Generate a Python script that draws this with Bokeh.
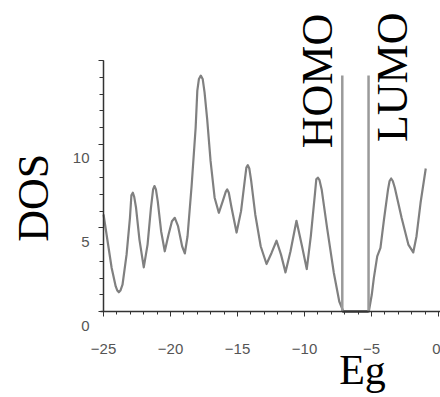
import math
from bokeh.plotting import figure
from bokeh.models import Range1d, SingleIntervalTicker, Label, LinearAxis
from bokeh.embed import file_html
from bokeh.resources import INLINE

# Density of states curve (energy Eg, DOS)
eg = [-25.0, -24.697, -24.393, -24.09, -23.97, -23.857, -23.74, -23.584, -23.281, -23.028,
      -22.92, -22.816, -22.71, -22.573, -22.32, -21.997, -21.714, -21.461, -21.3, -21.198,
      -21.09, -20.955, -20.702, -20.43, -20.146, -19.893, -19.681, -19.438, -19.135, -18.933,
      -18.73, -18.427, -18.124, -18.0, -17.88, -17.74, -17.6, -17.46, -17.265, -17.012,
      -16.708, -16.395, -16.101, -15.88, -15.768, -15.65, -15.444, -15.07, -14.736, -14.433,
      -14.34, -14.23, -14.12, -13.978, -13.675, -13.27, -12.835, -12.461, -12.087, -11.753,
      -11.419, -11.045, -10.6, -10.185, -9.832, -9.529, -9.225, -9.12, -9.003, -8.88,
      -8.72, -8.315, -7.81, -7.405, -7.1, -5.2, -4.98, -4.826, -4.574, -4.331,
      -4.068, -3.765, -3.65, -3.533, -3.41, -3.26, -2.754, -2.248, -1.884, -1.641,
      -1.338, -0.95]
dos = [5.8, 4.2, 2.6, 1.5, 1.25, 1.15, 1.25, 1.6, 3.4, 5.6,
       6.95, 7.1, 6.85, 6.2, 4.3, 2.64, 4.0, 6.2, 7.3, 7.5,
       7.3, 6.6, 4.8, 3.6, 4.6, 5.4, 5.6, 5.1, 3.9, 3.47,
       4.5, 7.5, 11.0, 13.2, 13.9, 14.1, 13.9, 13.1, 11.5, 9.0,
       6.8, 5.9, 6.6, 7.15, 7.3, 7.1, 6.2, 4.72, 6.0, 8.0,
       8.6, 8.75, 8.55, 7.8, 5.8, 3.9, 2.84, 3.5, 4.23, 3.4,
       2.34, 3.6, 5.42, 3.9, 2.54, 4.5, 7.0, 7.9, 8.0, 7.85,
       7.3, 5.0, 2.3, 0.6, 0.0, 0.0, 1.0, 2.0, 3.3, 3.8,
       5.5, 7.3, 7.8, 7.95, 7.8, 7.4, 5.6, 4.0, 3.53, 4.5,
       6.5, 8.55]

homo_x = [-7.18]
lumo_x = [-5.22]
level_top = [14.1]
level_bottom = [0.0]

y_tick_values = [0, 5, 10]
y_tick_labels = ["0", "5", "10"]

p = figure(width=440, height=397, output_backend="svg", toolbar_location=None,
           x_range=Range1d(-32.69, 0.15), y_range=Range1d(-5.14, 18.59),
           min_border_left=0, min_border_right=0, min_border_top=0,
           min_border_bottom=0, x_axis_type=None, y_axis_type=None)
p.outline_line_color = None
p.background_fill_color = "white"
p.border_fill_color = "white"

p.line(eg, dos, line_color="#808080", line_width=2.2, line_join="round")
p.line([lumo_x[0], homo_x[0]], [0, 0], line_color="#222222", line_width=2)
p.segment(x0=homo_x, y0=level_bottom, x1=homo_x, y1=level_top,
          line_color="#9a9a9a", line_width=2.5)
p.segment(x0=lumo_x, y0=level_bottom, x1=lumo_x, y1=level_top,
          line_color="#9a9a9a", line_width=2.5)

# x axis fixed at DOS = 0
xa = LinearAxis(fixed_location=0, bounds=(-25.2, 0.15))
xa.ticker = SingleIntervalTicker(interval=5, num_minor_ticks=5)
xa.axis_line_color = "#333333"
xa.axis_line_width = 1.5
xa.major_tick_in = 0
xa.major_tick_out = 5
xa.minor_tick_in = 0
xa.minor_tick_out = 3
xa.major_tick_line_color = "#333333"
xa.minor_tick_line_color = "#333333"
xa.major_label_text_font = "Liberation Sans"
xa.major_label_text_font_size = "15px"
xa.major_label_text_color = "#555555"
xa.major_label_standoff = 27
p.add_layout(xa, "below")

# y axis fixed at Eg = -25; its labels are placed below as annotations
ya = LinearAxis(fixed_location=-25, bounds=(0, 15))
ya.ticker = SingleIntervalTicker(interval=5, num_minor_ticks=5)
ya.axis_line_color = "#333333"
ya.axis_line_width = 1.5
ya.major_tick_in = 0
ya.major_tick_out = 5
ya.minor_tick_in = 0
ya.minor_tick_out = 4
ya.major_tick_line_color = "#333333"
ya.minor_tick_line_color = "#333333"
ya.major_label_text_font_size = "0px"
ya.major_label_text_color = None
p.add_layout(ya, "left")

for v, t in zip(y_tick_values, y_tick_labels):
    p.add_layout(Label(x=-25, y=v, text=t, x_offset=-14, y_offset=-14,
                       text_align="right", text_baseline="middle",
                       text_font="Liberation Sans", text_font_size="15px",
                       text_color="#555555"))

serif = "Liberation Serif"
p.add_layout(Label(x=-30.2, y=6.8, text="DOS", angle=math.pi / 2,
                   text_align="center", text_baseline="middle",
                   text_font=serif, text_font_size="44px", text_color="black"))
p.add_layout(Label(x=-5.67, y=-3.5, text="Eg",
                   text_align="center", text_baseline="alphabetic",
                   text_font=serif, text_font_size="42px", text_color="black"))
p.add_layout(Label(x=-9.03, y=13.78, text="HOMO", angle=math.pi / 2,
                   text_align="center", text_baseline="middle",
                   text_font=serif, text_font_size="44px", text_color="black"))
p.add_layout(Label(x=-3.43, y=14.0, text="LUMO", angle=math.pi / 2,
                   text_align="center", text_baseline="middle",
                   text_font=serif, text_font_size="44px", text_color="black"))

open("out.html", "w").write(file_html(p, INLINE))
